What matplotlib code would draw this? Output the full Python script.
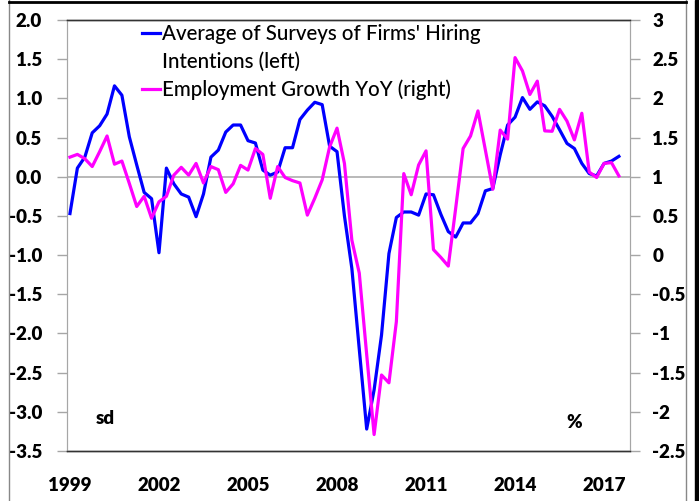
import matplotlib
matplotlib.use("Agg")
import matplotlib.pyplot as plt
from matplotlib.lines import Line2D
from matplotlib.patches import Rectangle
import numpy as np
import pandas as pd

plt.rcParams['font.family'] = ['Lato', 'DejaVu Sans']
plt.rcParams['axes.unicode_minus'] = False

# quarterly, 1999Q1 - 2017Q3
quarters = pd.period_range('1999Q1', '2017Q3', freq='Q')

# average of surveys of firms' hiring intentions, sd (left axis)
hiring = [-0.47, 0.11, 0.25, 0.56, 0.65, 0.80, 1.16, 1.04, 0.51, 0.15,
          -0.20, -0.28, -0.97, 0.11, -0.09, -0.22, -0.26, -0.51, -0.22, 0.25,
          0.34, 0.57, 0.66, 0.66, 0.46, 0.43, 0.085, 0.02, 0.06, 0.37,
          0.37, 0.73, 0.85, 0.95, 0.92, 0.39, 0.32, -0.50, -1.17, -2.20,
          -3.22, -2.72, -2.02, -0.98, -0.52, -0.45, -0.45, -0.49, -0.22, -0.23,
          -0.48, -0.70, -0.77, -0.59, -0.59, -0.47, -0.18, -0.15, 0.28, 0.66,
          0.76, 1.01, 0.86, 0.955, 0.905, 0.77, 0.60, 0.425, 0.36, 0.17,
          0.04, 0.01, 0.17, 0.20, 0.26]

# employment growth yoy, % (right axis)
employment = [1.25, 1.285, 1.23, 1.13, 1.32, 1.52, 1.16, 1.20, 0.915, 0.62,
              0.75, 0.47, 0.68, 0.75, 1.02, 1.12, 1.02, 1.17, 0.92, 1.13,
              1.09, 0.80, 0.91, 1.145, 1.085, 1.36, 1.285, 0.725, 1.13, 0.99,
              0.95, 0.92, 0.51, 0.725, 0.96, 1.38, 1.62, 1.17, 0.19, -0.23,
              -1.27, -2.29, -1.53, -1.63, -0.85, 1.04, 0.77, 1.15, 1.33, 0.07,
              -0.03, -0.14, 0.60, 1.36, 1.52, 1.84, 1.34, 0.84, 1.595, 1.48,
              2.52, 2.35, 2.05, 2.22, 1.585, 1.58, 1.86, 1.71, 1.47, 1.81,
              1.06, 0.99, 1.17, 1.18, 1.01]

year_ticks = [1999, 2002, 2005, 2008, 2011, 2014, 2017]
left_ticks = [2.0, 1.5, 1.0, 0.5, 0.0, -0.5, -1.0, -1.5, -2.0, -2.5, -3.0, -3.5]
right_ticks = [3, 2.5, 2, 1.5, 1, 0.5, 0, -0.5, -1, -1.5, -2, -2.5]

x = quarters.year + (quarters.quarter - 1) / 4.0

W, H = 699, 501
fig = plt.figure(figsize=(W / 100, H / 100), dpi=100)
ax = fig.add_axes([67 / W, 50 / H, 563 / W, 431 / H])
ax2 = ax.twinx()

ax.axhline(0, color='#a6a6a6', lw=1.1, zorder=1)
ax.plot(x, hiring, color='#0000ff', lw=2.3, zorder=3)
ax2.plot(x, employment, color='#ff00ff', lw=2.3, zorder=3)

ax.set_xlim(1998.9, 2017.874)
ax.set_ylim(-3.5, 2.0)
ax2.set_ylim(-2.5, 3.0)

ax.set_xticks(year_ticks)
ax.set_xticklabels([str(y) for y in year_ticks])
ax.set_yticks(left_ticks)
ax.set_yticklabels(['%.1f' % v for v in left_ticks])
ax2.set_yticks(right_ticks)
ax2.set_yticklabels(['%g' % v for v in right_ticks])

ax.tick_params(axis='x', length=0, pad=19, labelsize=13.5)
ax.tick_params(axis='y', length=7, width=1, color='#a6a6a6', pad=11, labelsize=13.5)
ax2.tick_params(axis='y', length=7, width=1, color='#a6a6a6', pad=9, labelsize=13.5)
for lab in ax.get_xticklabels() + ax.get_yticklabels() + ax2.get_yticklabels():
    lab.set_fontweight('heavy')

for a in (ax, ax2):
    a.spines['left'].set_color('#a6a6a6')
    a.spines['right'].set_color('#a6a6a6')
    a.spines['top'].set_color('#333333')
    a.spines['bottom'].set_color('#333333')
    a.spines['top'].set_linewidth(1)
    a.spines['bottom'].set_linewidth(1)

# legend drawn by hand so the handles line up with the first text line
fs_leg = 14.8
fig.add_artist(Line2D([142 / W, 160 / W], [1 - 33 / H, 1 - 33 / H],
                      color='#0000ff', lw=2.3))
fig.text(162 / W, 1 - 34 / H, "Average of Surveys of Firms' Hiring",
         fontsize=fs_leg, fontweight='medium', va='center', ha='left')
fig.text(162 / W, 1 - 62 / H, "Intentions (left)",
         fontsize=fs_leg, fontweight='medium', va='center', ha='left')
fig.add_artist(Line2D([142 / W, 160 / W], [1 - 89 / H, 1 - 89 / H],
                      color='#ff00ff', lw=2.3))
fig.text(162 / W, 1 - 90 / H, "Employment Growth YoY (right)",
         fontsize=fs_leg, fontweight='medium', va='center', ha='left')

fig.text(96 / W, 1 - 418 / H, "sd", fontsize=13.5, fontweight='heavy',
         va='center', ha='left')
fig.text(566 / W, 1 - 423 / H, "%", fontsize=13.5, fontweight='heavy',
         va='center', ha='left')

# screenshot frame
fig.add_artist(Line2D([9 / W, 9 / W], [0, 1], color='#888888', lw=1))
fig.add_artist(Line2D([686 / W, 686 / W], [0, 1], color='#888888', lw=1))
fig.add_artist(Line2D([9 / W, 686 / W], [1 - 1.5 / H, 1 - 1.5 / H], color='black', lw=2))
fig.add_artist(Rectangle((695 / W, 0), 4 / W, 1, color='black', transform=fig.transFigure))

fig.savefig('out.png', dpi=100)
